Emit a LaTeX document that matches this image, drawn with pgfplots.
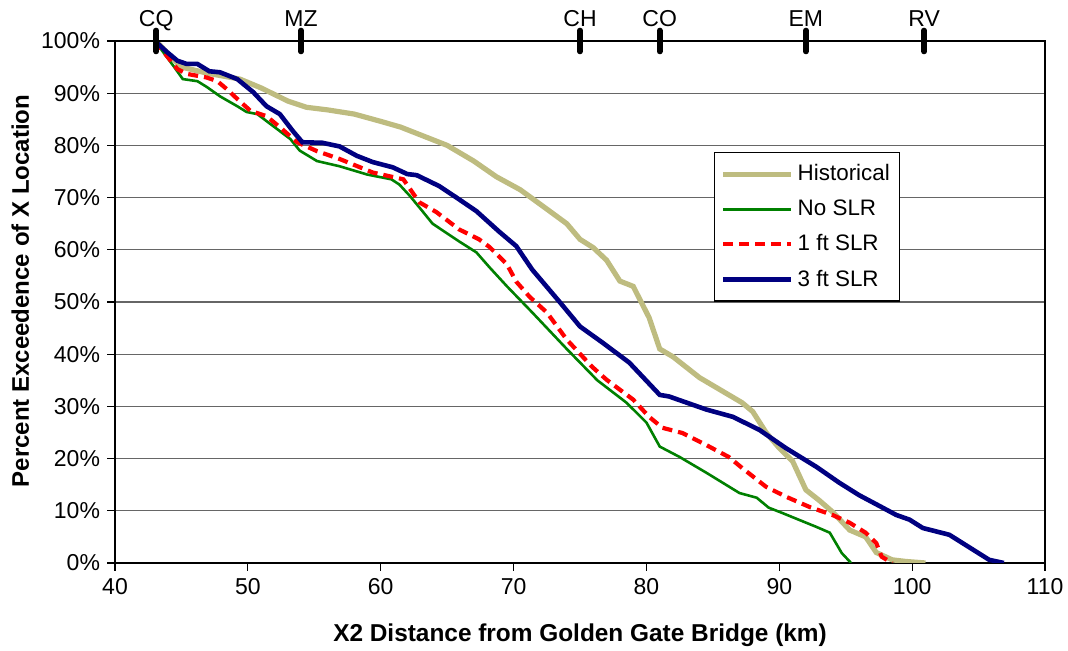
\documentclass[border=0pt]{standalone}
\usepackage{fontspec}
\setmainfont{Liberation Sans}
\usepackage{pgfplots}
\pgfplotsset{compat=1.18}
\definecolor{histcol}{RGB}{190,188,128}
\definecolor{noslr}{RGB}{0,128,0}
\definecolor{oneft}{RGB}{255,0,0}
\definecolor{threeft}{RGB}{0,0,128}
\begin{document}
\begin{tikzpicture}
\begin{axis}[
  scale only axis,
  width=465pt, height=261pt,
  xmin=40, xmax=110, ymin=0, ymax=100,
  xtick={40,50,...,110},
  ytick={0,10,...,100},
  yticklabel={\pgfmathprintnumber{\tick}\%},
  /pgf/number format/assume math mode=true,
  ymajorgrids,
  grid style={black!60, line width=0.6pt},
  axis line style={black, line width=0.6pt},
  tick style={black, line width=0.6pt},
  tick align=outside,
  major tick length=4pt,
  xtick pos=left, ytick pos=left,
  ticklabel style={font=\fontsize{11.5}{13}\selectfont},
  xlabel={\textbf{X2 Distance from Golden Gate Bridge (km)}},
  ylabel={\textbf{Percent Exceedence of X Location}},
  xlabel style={at={(rel axis cs:0.5,-0.138)}, anchor=center, font=\fontsize{12.2}{14}\selectfont},
  ylabel style={at={(rel axis cs:-0.102,0.521)}, anchor=center, font=\fontsize{12}{14}\selectfont},
  legend style={at={(rel axis cs:0.644,0.787)}, anchor=north west, draw=black, line width=0.6pt,
    font=\fontsize{11.2}{13}\selectfont, row sep=4pt, inner xsep=3pt, inner ysep=4pt},
  legend cell align=left,
  legend image code/.code={\draw[#1] (0pt,0pt) -- (34pt,0pt);},
]
\addplot[histcol, line width=2.6pt] coordinates {
(43.1,100) (44,97.5) (45,95) (47,93.8) (49.4,92.7) (51,91) (53,88.5) (54.4,87.3) (56,86.8) (58,86) (60,84.6) (61.5,83.5) (63,82) (65,80) (67,77) (68.7,74) (70.5,71.5) (72.5,67.8) (74,65) (75,62) (76,60.4) (77,58) (78,54) (79,53) (79.5,50.5) (80.2,47) (81,41) (82,39.5) (84,35.5) (85,34) (87.2,30.7) (88,29) (89,25) (90,22) (91,19.5) (92,14) (93,12) (94,9.8) (95.3,6.3) (96.5,5) (97.3,2) (98.5,0.6) (99.5,0.3) (101,0)
};
\addlegendentry{Historical}
\addplot[noslr, line width=1.3pt] coordinates {
(43,100) (44.4,95.2) (45.1,92.7) (46.2,92.3) (46.9,91.2) (47.9,89.4) (49.2,87.5) (49.9,86.4) (50.7,86) (51.9,83.7) (53.2,81.2) (53.9,79) (55.2,77) (56.9,76) (59,74.4) (60.8,73.5) (61.4,72.5) (62.2,70.3) (63.2,67.2) (63.9,65) (65.9,61.6) (67.2,59.5) (68.2,56.6) (69.5,53) (71.4,48) (74,41) (76.3,35) (78.5,30.7) (80,26.9) (81,22.3) (82.5,20.3) (84.5,17.3) (87,13.4) (88.3,12.5) (89.2,10.6) (90.2,9.6) (92.8,6.9) (93.8,5.8) (94.7,1.9) (95.4,0)
};
\addlegendentry{No SLR}
\addplot[oneft, line width=2.1pt, dash pattern=on 5pt off 3pt] coordinates {
(43,100) (44.1,96.5) (44.7,94.6) (45.4,93.7) (46.9,93) (47.7,92.3) (48.4,90.8) (49.2,88.9) (50.2,86.6) (51.4,85.6) (52.4,83.5) (53.7,80.6) (55.2,78.9) (56.9,77.4) (59.4,74.8) (61.7,73.5) (62.9,69.1) (64.2,67.2) (65.9,63.9) (67.4,62) (68.2,60.5) (69.5,57.2) (70.2,53.9) (71.2,51) (72.5,48) (74,42.8) (75.9,37.6) (77,35.1) (79,31.3) (80.2,28) (81.2,25.9) (82.7,24.9) (84.5,22.6) (86.2,20.3) (87.2,18.2) (89,14.6) (90.5,12.7) (92.3,10.7) (94,9.2) (95.3,7.7) (96.5,5.8) (97.3,3.8) (97.7,1.2) (98.5,0)
};
\addlegendentry{1 ft SLR}
\addplot[threeft, line width=2.3pt] coordinates {
(43,100) (43.9,97.9) (44.7,96.2) (45.4,95.6) (46.2,95.6) (47.1,94.2) (47.9,94) (49.2,92.7) (50.4,90.2) (51.4,87.5) (52.4,86) (53.4,82.7) (54.1,80.6) (55.6,80.5) (56.9,79.8) (58.2,78) (59.4,76.8) (60.9,75.8) (62,74.5) (62.7,74.3) (64.4,72.2) (65.7,70) (67.2,67.4) (68.9,63.5) (70.2,60.7) (71.4,56.2) (73.5,49.9) (75,45.3) (76.7,42.2) (78.7,38.4) (81,32.2) (81.7,31.9) (84.5,29.4) (86.5,28) (88.5,25.5) (90.5,22) (92.8,18.4) (94.5,15.4) (96,13) (97.7,10.7) (98.8,9.2) (99.8,8.3) (100.8,6.7) (102.8,5.4) (103.8,3.8) (105.8,0.6) (106.9,0)
};
\addlegendentry{3 ft SLR}
\coordinate (bl) at (rel axis cs:-0.1237,-0.1686);
\coordinate (tr) at (rel axis cs:1.0247,1.0785);
\end{axis}
\begin{axis}[
  scale only axis,
  width=465pt, height=261pt,
  xmin=40, xmax=110, ymin=0, ymax=100,
  axis x line*=top, axis y line=none,
  axis line style={black, line width=0.6pt},
  xtick={43.1,54,75,81,92,100.9},
  xticklabels={CQ,MZ,CH,CO,EM,RV},
  tick align=center,
  major tick length=10.5pt,
  major tick style={black, line width=2.8pt, line cap=round},
  ticklabel style={font=\fontsize{11.5}{13}\selectfont, yshift=-1.5pt, text depth=0pt},
]
\end{axis}
\pgfresetboundingbox
\path[use as bounding box] (bl) rectangle (tr);
\end{tikzpicture}
\end{document}
